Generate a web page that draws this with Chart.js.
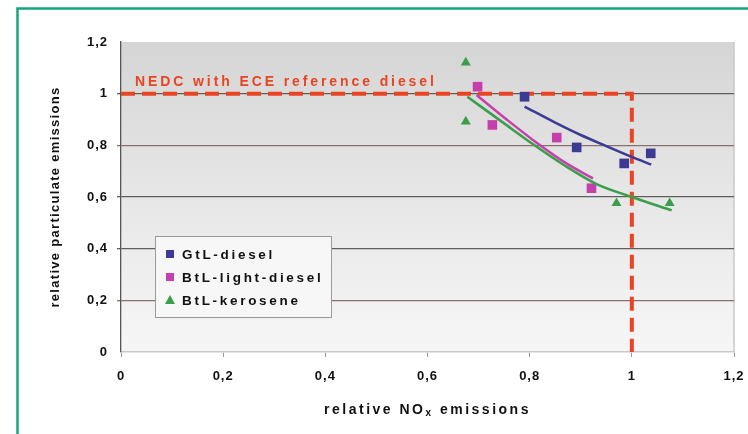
<!DOCTYPE html>
<html>
<head>
<meta charset="utf-8">
<script src="https://cdn.jsdelivr.net/npm/chart.js@4/dist/chart.umd.min.js"></script>
<style>
  html, body { margin: 0; padding: 0; background: #ffffff; }
  #wrap { width: 748px; height: 434px; position: relative; }
</style>
</head>
<body>
<div id="wrap"><canvas id="c" width="748" height="434"></canvas></div>
<script>
// Measured emissions relative to the reference diesel (x = NOx, y = particulates)
const gtlX = [0.79, 0.892, 0.985, 1.037];
const gtlY = [0.988, 0.792, 0.730, 0.769];
const btlDieselX = [0.698, 0.727, 0.853, 0.921];
const btlDieselY = [1.027, 0.879, 0.830, 0.634];
const keroseneX = [0.675, 0.675, 0.970, 1.074];
const keroseneY = [1.12, 0.892, 0.576, 0.576];

// Trend curves through each fuel's measurements
const gtlTrendX = [0.79, 0.85, 0.90, 0.95, 1.00, 1.038];
const gtlTrendY = [0.95, 0.888, 0.84, 0.797, 0.755, 0.725];
const btlDieselTrendX = [0.696, 0.755, 0.807, 0.872, 0.924];
const btlDieselTrendY = [0.995, 0.90, 0.82, 0.73, 0.672];
const keroseneTrendX = [0.678, 0.75, 0.806, 0.87, 0.931, 1.0, 1.078];
const keroseneTrendY = [0.988, 0.885, 0.805, 0.72, 0.65, 0.60, 0.548];

// Reference diesel (NEDC with ECE) boundary
const refX = [0, 1, 1];
const refY = [1, 1, 0];
const refLabel = 'NEDC with ECE reference diesel';

const seriesNames = ['GtL-diesel', 'BtL-light-diesel', 'BtL-kerosene'];
const axisTicks = [0, 0.2, 0.4, 0.6, 0.8, 1, 1.2];
const xTitleParts = ['relative NO', 'x', ' emissions'];
const yTitle = 'relative particulate emissions';

const colBlue = '#3b3a94';
const colMagenta = '#c640ad';
const colGreen = '#3b9e4a';
const colRed = '#ea4422';

const pts = (xs, ys) => xs.map((x, i) => ({ x: x, y: ys[i] }));
const fmt = v => String(Math.round(v * 10) / 10).replace('.', ',');

const FONT = '"Liberation Sans", Arial, sans-serif';
const TICK_SPACING = '1px';

const framePlugin = {
  id: 'frame',
  beforeLayout(chart) { chart.ctx.letterSpacing = TICK_SPACING; },
  beforeDraw(chart) {
    const ctx = chart.ctx;
    const a = chart.chartArea;
    ctx.save();
    ctx.fillStyle = '#ffffff';
    ctx.fillRect(0, 0, chart.width, chart.height);
    // page frame
    ctx.strokeStyle = '#15a57f';
    ctx.lineWidth = 2.5;
    ctx.beginPath();
    ctx.moveTo(17.5, chart.height + 2);
    ctx.lineTo(17.5, 8.5);
    ctx.lineTo(chart.width + 2, 8.5);
    ctx.stroke();
    // plot background: grey fading to near white
    const g = ctx.createLinearGradient(0, a.top, 0, a.bottom);
    g.addColorStop(0, '#d5d5d5');
    g.addColorStop(0.5, '#e7e7e7');
    g.addColorStop(1, '#f6f6f6');
    ctx.fillStyle = g;
    ctx.fillRect(a.left, a.top, a.right - a.left, a.bottom - a.top);
    ctx.strokeStyle = '#c9c9c9';
    ctx.lineWidth = 1.5;
    ctx.beginPath();
    ctx.moveTo(a.right, a.top);
    ctx.lineTo(a.right, a.bottom);
    ctx.stroke();
    ctx.restore();
    ctx.letterSpacing = TICK_SPACING;
  },
  afterDraw(chart) {
    const ctx = chart.ctx;
    const a = chart.chartArea;
    const xs = chart.scales.x, ys = chart.scales.y;
    ctx.save();
    // reference label
    ctx.letterSpacing = '2.9px';
    ctx.font = 'bold 14px ' + FONT;
    ctx.fillStyle = colRed;
    ctx.textBaseline = 'alphabetic';
    ctx.textAlign = 'left';
    ctx.fillText(refLabel, xs.getPixelForValue(0) + 14, ys.getPixelForValue(1) - 8);

    // axis titles
    ctx.fillStyle = '#111111';
    ctx.letterSpacing = '1.3px';
    ctx.font = 'bold 13px ' + FONT;
    ctx.save();
    ctx.translate(55, (a.top + a.bottom) / 2);
    ctx.rotate(-Math.PI / 2);
    ctx.textAlign = 'center';
    ctx.textBaseline = 'middle';
    ctx.fillText(yTitle, 0, 0);
    ctx.restore();

    ctx.letterSpacing = '2.5px';
    const subFont = 'bold 10px ' + FONT;
    const mainFont = 'bold 14px ' + FONT;
    ctx.font = mainFont;
    const w1 = ctx.measureText(xTitleParts[0]).width;
    const w3 = ctx.measureText(xTitleParts[2]).width;
    ctx.font = subFont;
    const w2 = ctx.measureText(xTitleParts[1]).width;
    let x0 = (a.left + a.right) / 2 - (w1 + w2 + w3) / 2;
    const yb = 414;
    ctx.textAlign = 'left';
    ctx.textBaseline = 'alphabetic';
    ctx.font = mainFont;
    ctx.fillText(xTitleParts[0], x0, yb);
    ctx.font = subFont;
    ctx.fillText(xTitleParts[1], x0 + w1, yb + 2);
    ctx.font = mainFont;
    ctx.fillText(xTitleParts[2], x0 + w1 + w2, yb);

    // legend box
    const lx = 155, ly = 236, lw = 176, lh = 81;
    ctx.fillStyle = '#f7f7f7';
    ctx.fillRect(lx, ly, lw, lh);
    ctx.strokeStyle = '#9a9a9a';
    ctx.lineWidth = 1;
    ctx.strokeRect(lx + 0.5, ly + 0.5, lw, lh);
    const cols = [colBlue, colMagenta, colGreen];
    ctx.font = 'bold 13.5px ' + FONT;
    ctx.letterSpacing = '2.7px';
    ctx.textBaseline = 'middle';
    seriesNames.forEach((name, i) => {
      const cy = ly + 18 + i * 23;
      ctx.fillStyle = cols[i];
      if (i < 2) {
        ctx.fillRect(166, cy - 4, 8, 8);
      } else {
        ctx.beginPath();
        ctx.moveTo(170, cy - 5);
        ctx.lineTo(175, cy + 4);
        ctx.lineTo(165, cy + 4);
        ctx.closePath();
        ctx.fill();
      }
      ctx.fillStyle = '#111111';
      ctx.fillText(name, 182, cy + 1);
    });
    ctx.restore();
  }
};

const gridCol = ctx => {
  const v = ctx.tick ? ctx.tick.value : null;
  if (v === null) return '#6a6a6a';
  if (Math.abs(v - 1.2) < 1e-6 || Math.abs(v) < 1e-6) return 'rgba(0,0,0,0)';
  if (Math.abs(v - 0.8) < 1e-6 || Math.abs(v - 0.2) < 1e-6) return '#8a706c';
  return '#5e5e5e';
};

new Chart(document.getElementById('c'), {
  type: 'scatter',
  data: {
    datasets: [
      { label: 'ref', data: pts(refX, refY), showLine: true, borderColor: colRed, borderWidth: 4,
        borderDash: [14, 7], pointRadius: 0, fill: false, order: 5 },
      { label: 'gtlTrend', data: pts(gtlTrendX, gtlTrendY), showLine: true, borderColor: colBlue,
        borderWidth: 2.5, pointRadius: 0, cubicInterpolationMode: 'monotone' },
      { label: 'btlTrend', data: pts(btlDieselTrendX, btlDieselTrendY), showLine: true, borderColor: colMagenta,
        borderWidth: 2.5, pointRadius: 0, cubicInterpolationMode: 'monotone' },
      { label: 'keroTrend', data: pts(keroseneTrendX, keroseneTrendY), showLine: true, borderColor: colGreen,
        borderWidth: 2.5, pointRadius: 0, cubicInterpolationMode: 'monotone' },
      { label: seriesNames[0], data: pts(gtlX, gtlY), pointStyle: 'rect', pointRadius: 6.8,
        backgroundColor: colBlue, borderColor: colBlue, borderWidth: 0 },
      { label: seriesNames[1], data: pts(btlDieselX, btlDieselY), pointStyle: 'rect', pointRadius: 6.8,
        backgroundColor: colMagenta, borderColor: colMagenta, borderWidth: 0 },
      { label: seriesNames[2], data: pts(keroseneX, keroseneY), pointStyle: 'triangle', pointRadius: 5.8,
        backgroundColor: colGreen, borderColor: colGreen, borderWidth: 0 }
    ]
  },
  options: {
    responsive: false,
    animation: false,
    clip: false,
    layout: { padding: { left: 20, top: 42, right: 14, bottom: 0 } },
    plugins: { legend: { display: false }, tooltip: { enabled: false } },
    scales: {
      x: {
        type: 'linear', min: 0, max: 1.2,
        afterBuildTicks: s => { s.ticks = axisTicks.map(v => ({ value: v })); },
        afterFit: s => { s.height = 82; s.paddingLeft = 0; s.paddingRight = 0; },
        ticks: { callback: v => fmt(v), color: '#111111', padding: 12, maxRotation: 0,
                 font: { family: FONT, size: 13, weight: 'bold' } },
        grid: { drawOnChartArea: false, drawTicks: true, tickLength: 5, color: '#9a9a9a' },
        border: { color: '#c9c9c9', width: 1.5 }
      },
      y: {
        type: 'linear', min: 0, max: 1.2,
        afterBuildTicks: s => { s.ticks = axisTicks.map(v => ({ value: v })); },
        afterFit: s => { s.width = 101; s.paddingTop = 0; s.paddingBottom = 0; },
        ticks: { callback: v => fmt(v), color: '#111111', padding: 9,
                 font: { family: FONT, size: 13, weight: 'bold' } },
        grid: { color: gridCol, lineWidth: 1.3, drawTicks: true, tickLength: 4 },
        border: { color: '#555555', width: 1.3 }
      }
    }
  },
  plugins: [framePlugin]
});
</script>
</body>
</html>
